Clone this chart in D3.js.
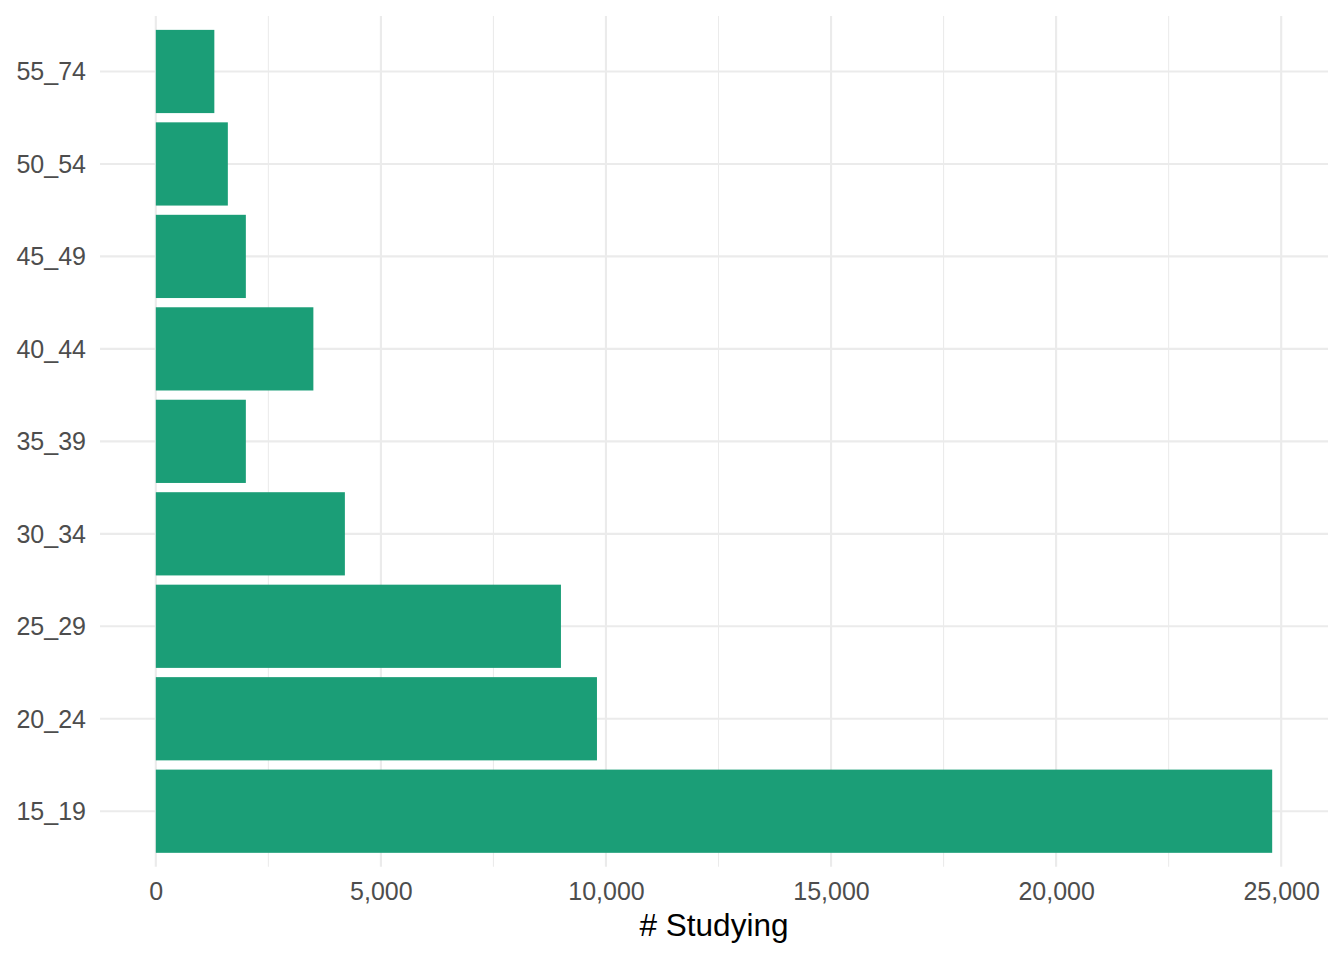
<!DOCTYPE html>
<html>
<head>
<meta charset="utf-8">
<script src="https://cdn.jsdelivr.net/npm/d3@7"></script>
<style>
  html, body { margin: 0; padding: 0; background: #ffffff; }
  svg { display: block; font-family: "Liberation Sans", Arial, Helvetica, sans-serif; }
</style>
</head>
<body>
<svg id="chart" width="1344" height="960"></svg>
<script>
// ---- data ----
const categories = ["15_19", "20_24", "25_29", "30_34", "35_39", "40_44", "45_49", "50_54", "55_74"];
const studying = [24800, 9800, 9000, 4200, 2000, 3500, 2000, 1600, 1300];
const majorTicks = [0, 5000, 10000, 15000, 20000, 25000];
const minorTicks = [2500, 7500, 12500, 17500, 22500];
const xTitle = "# Studying";

const data = categories.map((c, i) => ({ cat: c, value: studying[i] }));

const width = 1344, height = 960;
const panel = { left: 100, right: 1328, top: 16, bottom: 866.7 };

const svg = d3.select("#chart");

const maxV = d3.max(studying);
const pad = maxV * 0.05;
const x = d3.scaleLinear()
  .domain([0 - pad, maxV + pad])
  .range([panel.left, panel.right]);

const y = d3.scaleBand()
  .domain(categories)
  .range([panel.bottom, panel.top])
  .paddingInner(0.1)
  .paddingOuter(0.15);

const grid = svg.append("g");

// minor vertical grid
grid.selectAll("line.minor")
  .data(minorTicks)
  .join("line")
  .attr("class", "minor")
  .attr("x1", d => x(d)).attr("x2", d => x(d))
  .attr("y1", panel.top).attr("y2", panel.bottom)
  .attr("stroke", "#ebebeb").attr("stroke-width", 1.07);

// major vertical grid
grid.selectAll("line.majorx")
  .data(majorTicks)
  .join("line")
  .attr("class", "majorx")
  .attr("x1", d => x(d)).attr("x2", d => x(d))
  .attr("y1", panel.top).attr("y2", panel.bottom)
  .attr("stroke", "#ebebeb").attr("stroke-width", 2.13);

// major horizontal grid
grid.selectAll("line.majory")
  .data(categories)
  .join("line")
  .attr("class", "majory")
  .attr("x1", panel.left).attr("x2", panel.right)
  .attr("y1", d => y(d) + y.bandwidth() / 2)
  .attr("y2", d => y(d) + y.bandwidth() / 2)
  .attr("stroke", "#ebebeb").attr("stroke-width", 2.13);

// bars
svg.append("g")
  .selectAll("rect")
  .data(data)
  .join("rect")
  .attr("x", x(0))
  .attr("y", d => y(d.cat))
  .attr("width", d => x(d.value) - x(0))
  .attr("height", y.bandwidth())
  .attr("fill", "#1b9e77");

// x axis
const xAxis = d3.axisBottom(x)
  .tickValues(majorTicks)
  .tickFormat(d3.format(","))
  .tickSize(0)
  .tickPadding(0);
const gx = svg.append("g")
  .attr("transform", `translate(0, ${panel.bottom})`)
  .call(xAxis);
gx.select(".domain").remove();
gx.selectAll("text")
  .attr("y", 0)
  .attr("dy", 0)
  .attr("transform", "translate(0, 33.5)")
  .attr("fill", "#4d4d4d")
  .style("font-size", "25px")
  .style("font-family", "Liberation Sans, Arial, sans-serif");

// y axis
const yAxis = d3.axisLeft(y)
  .tickSize(0)
  .tickPadding(0);
const gy = svg.append("g")
  .attr("transform", `translate(86, 0)`)
  .call(yAxis);
gy.select(".domain").remove();
gy.selectAll("text")
  .attr("x", 0)
  .attr("dy", "0.35em")
  .attr("fill", "#4d4d4d")
  .style("font-size", "25px")
  .style("font-family", "Liberation Sans, Arial, sans-serif");

// x title
svg.append("text")
  .attr("x", (panel.left + panel.right) / 2)
  .attr("y", 936)
  .attr("text-anchor", "middle")
  .attr("fill", "#000000")
  .style("font-size", "31.5px")
  .text(xTitle);
</script>
</body>
</html>
